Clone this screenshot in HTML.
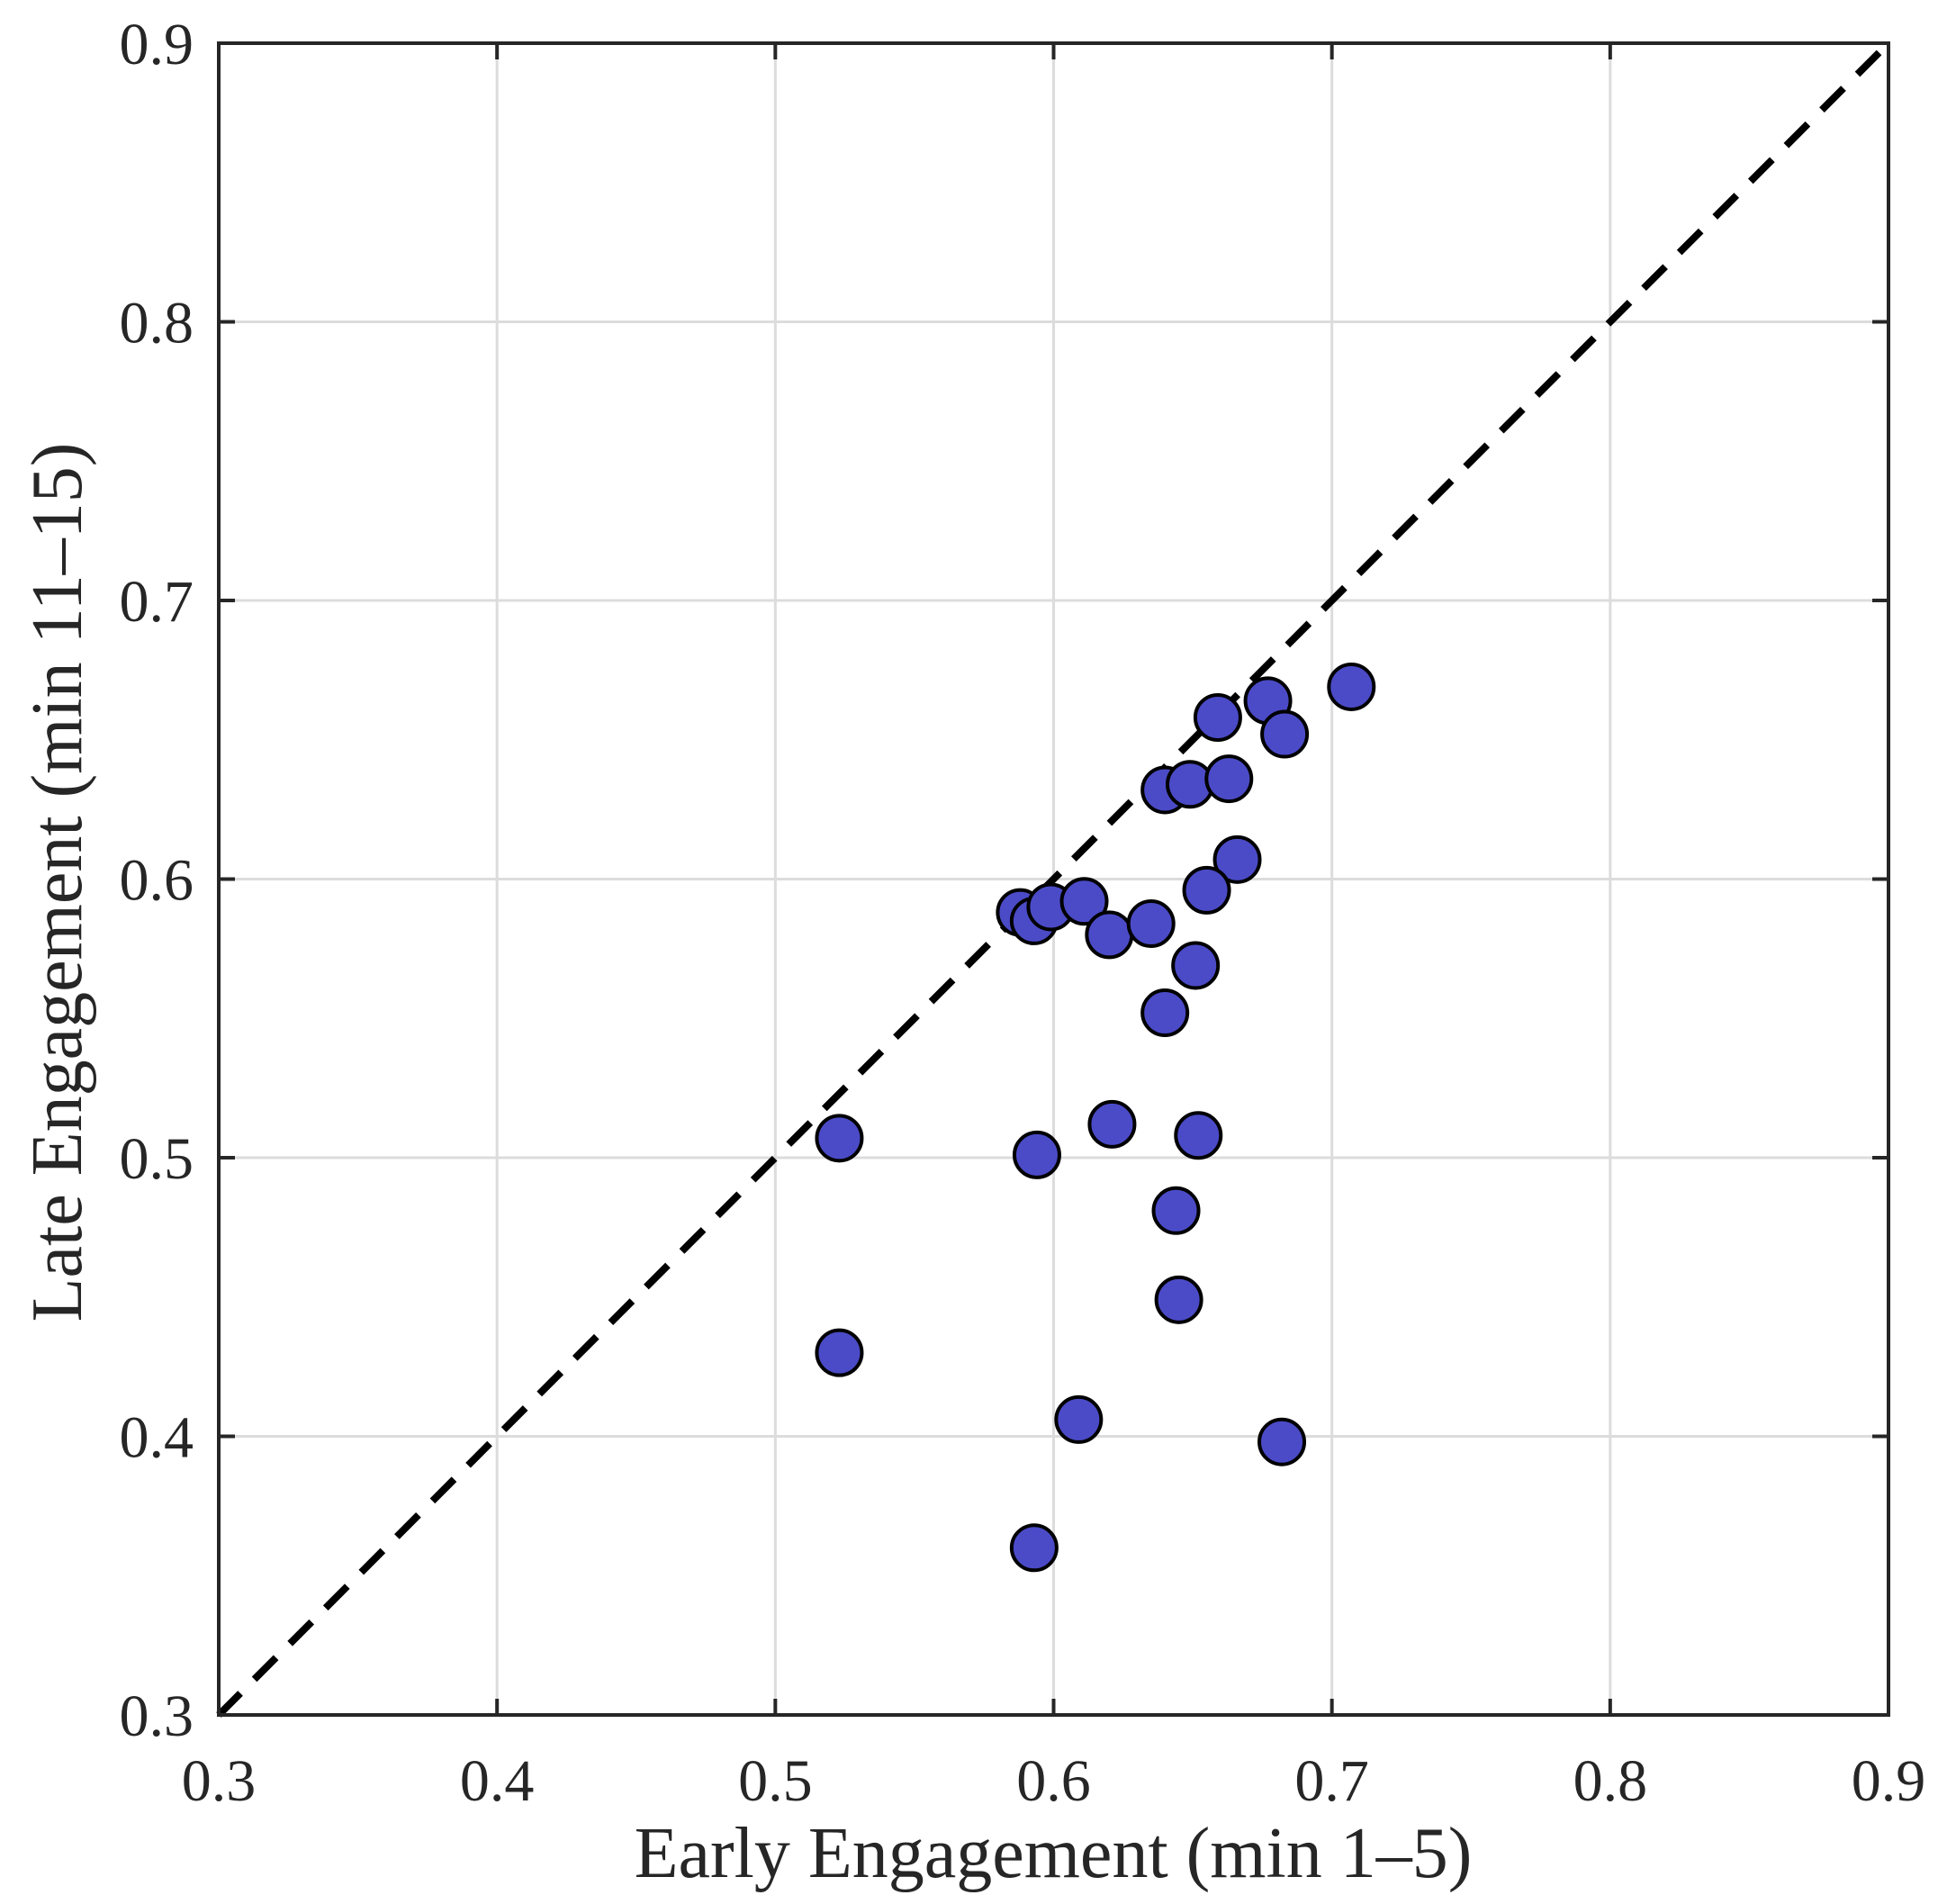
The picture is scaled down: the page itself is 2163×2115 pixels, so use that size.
<!DOCTYPE html>
<html><head><meta charset="utf-8"><style>
html,body{margin:0;padding:0;background:#fff;}
svg{display:block;}
text{font-family:"Liberation Serif",serif;fill:#262626;}
</style></head><body>
<svg id="chart" width="2163" height="2115" viewBox="0 0 2163 2115" xmlns="http://www.w3.org/2000/svg">
<g id="grid"></g>
<g id="diag"></g>
<g id="pts"></g>
<g id="axes"></g>
<text x="1170" y="2085" font-size="80" text-anchor="middle">Early Engagement (min 1–5)</text>
<text x="0" y="0" font-size="80" text-anchor="middle" transform="translate(90,980) rotate(-90)">Late Engagement (min 11–15)</text>
</svg>
<script>
const xTicks=[0.3,0.4,0.5,0.6,0.7,0.8,0.9];
const yTicks=[0.3,0.4,0.5,0.6,0.7,0.8,0.9];
const tickLabels=["0.3","0.4","0.5","0.6","0.7","0.8","0.9"];
const earlyVals=[0.707,0.677,0.659,0.683,0.640,0.649,0.663,0.666,0.655,0.588,0.593,0.599,0.611,0.620,0.635,0.651,0.640,0.523,0.594,0.621,0.652,0.644,0.645,0.523,0.609,0.682,0.593];
const lateVals=[0.669,0.664,0.658,0.652,0.632,0.634,0.636,0.607,0.596,0.588,0.585,0.590,0.592,0.580,0.584,0.569,0.552,0.507,0.501,0.512,0.508,0.481,0.449,0.430,0.406,0.398,0.360];
const L=243,R=2098,T=48,B=1905;
const sx=v=>L+(v-0.3)/0.6*(R-L);
const sy=v=>B-(v-0.3)/0.6*(B-T);
const NS="http://www.w3.org/2000/svg";
function mk(tag,parent,attrs){const e=document.createElementNS(NS,tag);for(const k in attrs)e.setAttribute(k,attrs[k]);parent.appendChild(e);return e;}
const grid=document.getElementById('grid'),axes=document.getElementById('axes'),pts=document.getElementById('pts'),diag=document.getElementById('diag');
xTicks.forEach((v,i)=>{
 const g=mk('line',grid,{x1:sx(v),x2:sx(v),y1:T,y2:B,stroke:'#dcdcdc','stroke-width':3});
 
 
 const t=mk('text',axes,{x:sx(v),y:2000,'font-size':66,'text-anchor':'middle'});
 
 
 t.textContent=tickLabels[i];
 mk('line',axes,{x1:sx(v),x2:sx(v),y1:B,y2:B-18,stroke:'#262626','stroke-width':4});
 mk('line',axes,{x1:sx(v),x2:sx(v),y1:T,y2:T+18,stroke:'#262626','stroke-width':4});
});
yTicks.forEach((v,i)=>{
 const g=mk('line',grid,{x1:L,x2:R,y1:sy(v),y2:sy(v),stroke:'#dcdcdc','stroke-width':3});
 
 
 const t=mk('text',axes,{x:215,y:sy(v)+23,'font-size':66,'text-anchor':'end'});
 
 
 t.textContent=tickLabels[i];
 mk('line',axes,{x1:L,x2:L+18,y1:sy(v),y2:sy(v),stroke:'#262626','stroke-width':4});
 mk('line',axes,{x1:R,x2:R-18,y1:sy(v),y2:sy(v),stroke:'#262626','stroke-width':4});
});
const d=mk('line',diag,{x1:sx(0.3),y1:sy(0.3),x2:sx(0.9),y2:sy(0.9),stroke:'#000','stroke-width':8,'stroke-dasharray':'34 22'});


earlyVals.forEach((v,i)=>{
 const c=mk('circle',pts,{cx:sx(v),cy:sy(lateVals[i]),r:25,fill:'#4b4bc8',stroke:'#000','stroke-width':4});
 
 
});
const f=mk('rect',axes,{x:L,y:T,width:R-L,height:B-T,fill:'none',stroke:'#262626','stroke-width':4});


</script>
</body></html>
